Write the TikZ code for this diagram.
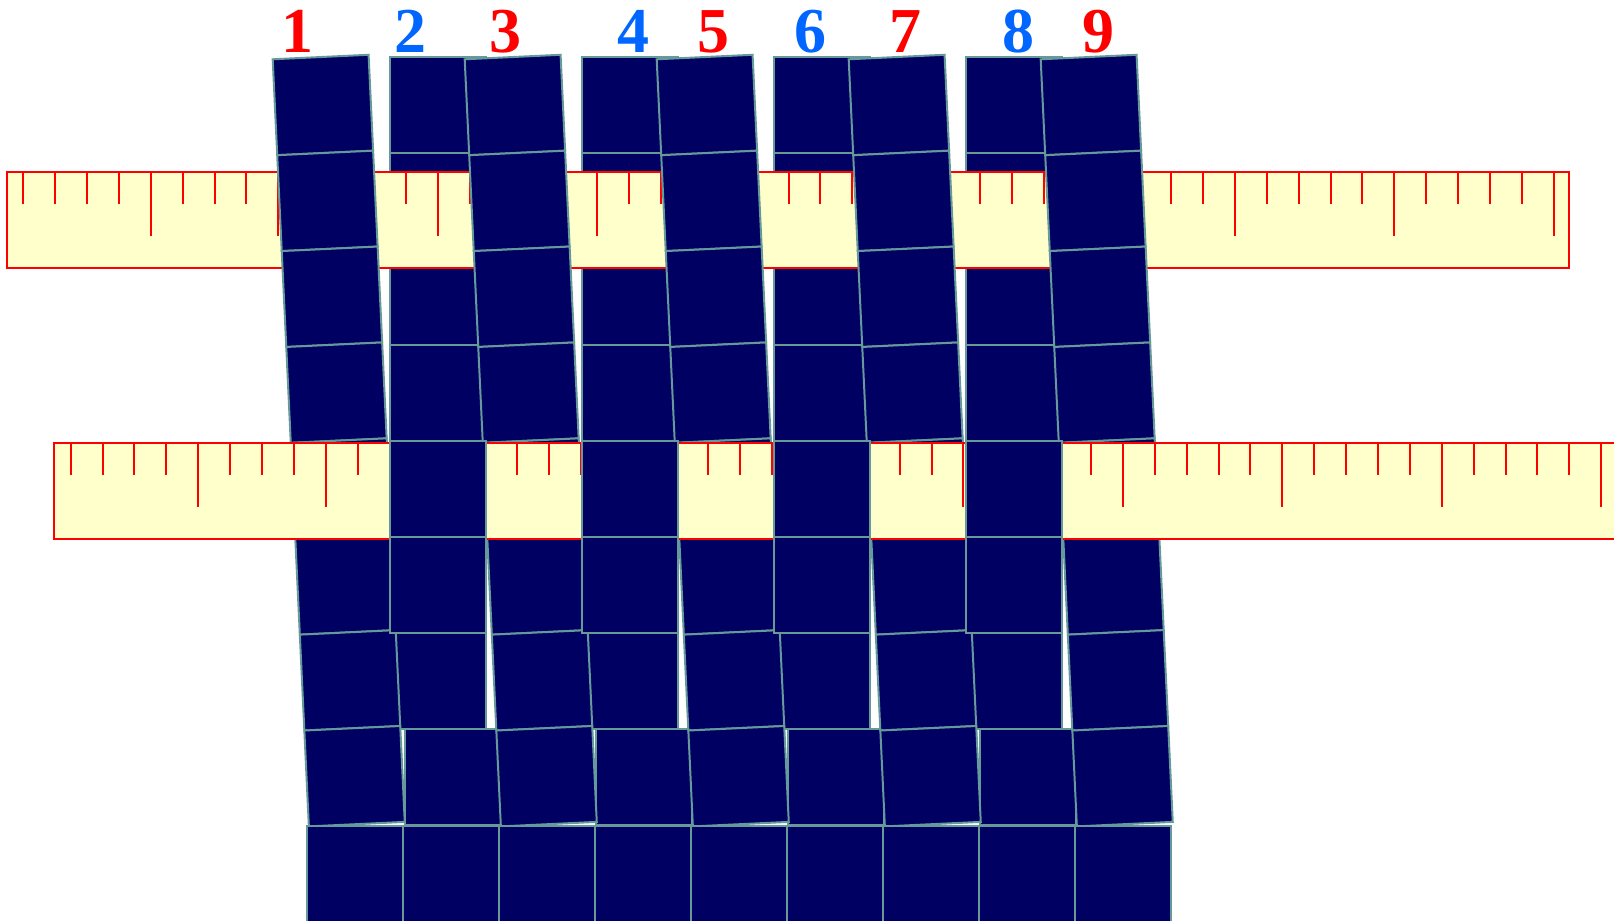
\documentclass[tikz,border=0pt]{standalone}
\usepackage{fontspec}
\setmainfont{Liberation Serif}
\definecolor{navy}{RGB}{0,0,98}
\definecolor{edgecol}{RGB}{102,153,153}
\definecolor{rulerfill}{RGB}{255,255,204}
\definecolor{numred}{RGB}{255,0,0}
\definecolor{numblue}{RGB}{0,102,255}
\begin{document}
\begin{tikzpicture}[x=0.5pt,y=-0.5pt,
  tile/.style={fill=navy,draw=edgecol,line width=1pt},
  rulerbox/.style={fill=rulerfill,draw=red,line width=1pt},
  tickline/.style={draw=red,line width=1pt},
  num/.style={font=\fontsize{32}{32}\selectfont\bfseries,inner sep=0pt}]
\useasboundingbox (0,0) rectangle (1614,921);
\clip (0,0) rectangle (1614,921);
% even columns: rows 1-4 and 7, row 8 shifted
\foreach \j in {0,...,3}{
  \foreach \r in {0,1,2,3,6}{
    \path[tile] (390+192*\j,57.3+96*\r) rectangle ++(96,96);
  }
  \path[tile] (404.8+191.6*\j,729.3) rectangle ++(96,96);
}
% upper ruler
\path[rulerbox] (7,172.3) rectangle (1569.3,267.7);
\foreach \k in {0,...,48}{\draw[tickline] (23.3+31.885*\k,172.3) -- ++(0,32);}
\foreach \k in {4,8,13,18,23,28,33,38,43,48}{\draw[tickline] (23.3+31.885*\k,172.3) -- ++(0,64);}
% tilted odd columns
\foreach \k in {0,...,4}{
  \begin{scope}[shift={(272.7+192*\k,59.3)},rotate=2.7]
    \foreach \r in {0,...,7}{\path[tile] (0,96*\r) rectangle ++(96,96);}
  \end{scope}
}
% lower ruler
\path[rulerbox] (54.3,443.3) rectangle (1616.6,538.7);
\foreach \k in {0,...,48}{\draw[tickline] (70.7+31.885*\k,443.3) -- ++(0,32);}
\foreach \k in {4,8,13,18,23,28,33,38,43,48}{\draw[tickline] (70.7+31.885*\k,443.3) -- ++(0,64);}
% even columns rows 5-6 on top
\foreach \j in {0,...,3}{
  \foreach \r in {4,5}{
    \path[tile] (390+192*\j,57.3+96*\r) rectangle ++(96,96);
  }
}
% bottom row
\foreach \k in {0,...,8}{\path[tile] (307.3+96*\k,825.7) rectangle ++(96,96);}
% numbers
\node[num,text=numred]  (n1) at (297.7,31.7) {1};
\node[num,text=numblue] (n2) at (410,31.7) {2};
\node[num,text=numred]  (n3) at (505,31.7) {3};
\node[num,text=numblue] (n4) at (633.3,31.7) {4};
\node[num,text=numred]  (n5) at (713.3,31.7) {5};
\node[num,text=numblue] (n6) at (810,31.7) {6};
\node[num,text=numred]  (n7) at (905,31.7) {7};
\node[num,text=numblue] (n8) at (1018.3,31.7) {8};
\node[num,text=numred]  (n9) at (1098.3,31.7) {9};
\end{tikzpicture}
\end{document}
